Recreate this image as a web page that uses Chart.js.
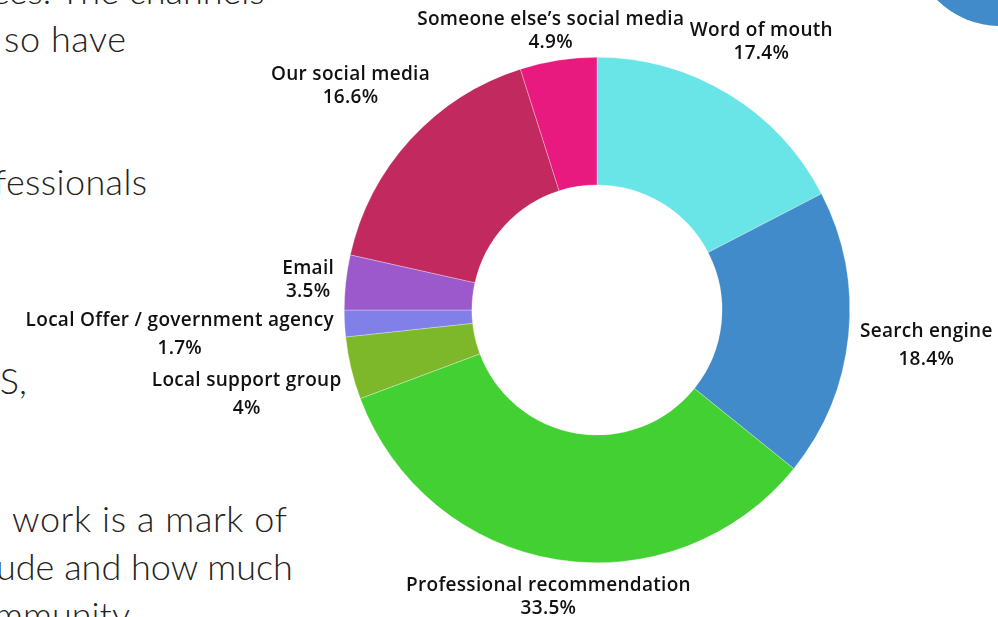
<!DOCTYPE html>
<html>
<head>
<meta charset="utf-8">
<script src="https://cdn.jsdelivr.net/npm/chart.js@4.4.0/dist/chart.umd.min.js"></script>
<style>
  html, body { margin: 0; padding: 0; background: #fff; overflow: hidden; }
  #page { position: relative; width: 998px; height: 617px; overflow: hidden; }
  .para { position: absolute; font-family: Lato, sans-serif; font-weight: 300; font-size: 36px;
          line-height: 48px; color: #222; white-space: nowrap; }
  #blob { position: absolute; left: 911px; top: -152px; width: 178px; height: 178px;
          border-radius: 50%; background: #418bca; }
  #pie { position: absolute; left: 0; top: 0; }
</style>
</head>
<body>
<div id="page">
  <div class="para" style="left:-8px; top:-34px;">ces. The channels</div>
  <div class="para" style="left:4px; top:14px; letter-spacing:0.6px;">so have</div>
  <div class="para" style="left:-6px; top:157px; letter-spacing:0.4px;">fessionals</div>
  <div class="para" style="left:-21px; top:356px;">TS,</div>
  <div class="para" style="left:12px; top:494px; letter-spacing:0.6px;">work is a mark of</div>
  <div class="para" style="left:-4px; top:542px;">ude and how much</div>
  <div class="para" style="left:-6px; top:590px;">mmunity</div>
  <div id="blob"></div>
  <canvas id="pie" width="998" height="617"></canvas>
</div>
<script>
const sources = ['Word of mouth', 'Search engine', 'Professional recommendation', 'Local support group',
                 'Local Offer / government agency', 'Email', 'Our social media', "Someone else\u2019s social media"];
const shares = [17.4, 18.4, 33.5, 4, 1.7, 3.5, 16.6, 4.9];
const sliceColours = ['#69e5e8', '#418bca', '#43d033', '#7db72a', '#8080e8', '#9b59cb', '#c2295e', '#e8197f'];

// labels outside each slice: box centre pushed out along the mid angle by its own extent,
// then kept inside the canvas. lines are stacked on their real ink height.
const outsideLabels = {
    id: 'outsideLabels',
    afterDatasetsDraw(chart) {
        const c = chart.ctx;
        const meta = chart.getDatasetMeta(0);
        const gap = 9;
        c.save();
        c.font = '600 19px "Open Sans", sans-serif';
        c.letterSpacing = '0.3px';
        c.fillStyle = '#111';
        c.textAlign = 'center';
        c.textBaseline = 'alphabetic';
        meta.data.forEach(function(arc, i) {
            const p = arc.getProps(['x', 'y', 'startAngle', 'endAngle', 'outerRadius'], true);
            const mid = (p.startAngle + p.endAngle) / 2;
            const vx = Math.cos(mid), vy = Math.sin(mid);
            const lines = [sources[i], shares[i] + '%'];
            const ms = lines.map(t => c.measureText(t));
            const w = Math.max(...ms.map(m => m.width));
            let h = 0;
            ms.forEach(function(m, k) {
                h += m.actualBoundingBoxAscent + m.actualBoundingBoxDescent + (k ? gap : 0);
            });
            const r = p.outerRadius + 10 + Math.abs(vx) * w / 2 + Math.abs(vy) * h / 2;
            let cx = p.x + vx * r, cy = p.y + vy * r;
            cy = Math.min(Math.max(cy, h / 2 + 10), chart.height - h / 2 - 3);
            cx = Math.min(Math.max(cx, w / 2), chart.width - w / 2);
            let top = cy - h / 2;
            ms.forEach(function(m, k) {
                const base = top + m.actualBoundingBoxAscent;
                c.fillText(lines[k], cx, base);
                top = base + m.actualBoundingBoxDescent + gap;
            });
        });
        c.restore();
    }
};

new Chart(document.getElementById('pie').getContext('2d'), {
    type: 'doughnut',
    data: {
        labels: sources,
        datasets: [{
            data: shares,
            backgroundColor: sliceColours,
            borderColor: 'rgba(255,255,255,0.6)',
            borderWidth: 0.5
        }]
    },
    options: {
        responsive: false,
        animation: false,
        cutout: '49.5%',
        layout: { padding: { top: 57, bottom: 54, left: 344, right: 148 } },
        plugins: {
            legend: { display: false },
            tooltip: { enabled: false }
        }
    },
    plugins: [outsideLabels]
});
</script>
</body>
</html>
